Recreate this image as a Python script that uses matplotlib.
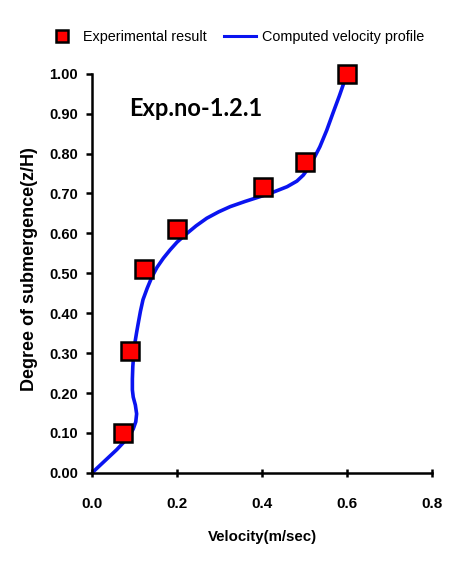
import matplotlib
matplotlib.use("Agg")
import matplotlib.pyplot as plt
from matplotlib.lines import Line2D

# experimental points
exp_velocity = [0.073, 0.089, 0.122, 0.20, 0.402, 0.501, 0.60]
exp_depth = [0.10, 0.305, 0.51, 0.61, 0.715, 0.78, 1.00]

# computed velocity profile
calc_velocity = [0.0, 0.02, 0.04, 0.058, 0.073, 0.088, 0.097, 0.103, 0.105, 0.102,
                 0.097, 0.095, 0.095, 0.096, 0.098, 0.101, 0.105, 0.109, 0.114,
                 0.120, 0.130, 0.141, 0.153, 0.168, 0.184, 0.200, 0.220, 0.245,
                 0.270, 0.298, 0.325, 0.360, 0.395, 0.428, 0.459, 0.482, 0.497,
                 0.508, 0.522, 0.536, 0.552, 0.567, 0.582, 0.595]
calc_depth = [0.0, 0.02, 0.04, 0.058, 0.075, 0.093, 0.11, 0.128, 0.148, 0.17,
              0.19, 0.208, 0.235, 0.266, 0.296, 0.326, 0.352, 0.376, 0.405,
              0.434, 0.463, 0.491, 0.515, 0.538, 0.559, 0.578, 0.597, 0.619,
              0.638, 0.654, 0.667, 0.680, 0.692, 0.704, 0.717, 0.731, 0.746,
              0.762, 0.788, 0.817, 0.858, 0.902, 0.945, 0.985]

xticks = [0.0, 0.2, 0.4, 0.6, 0.8]
yticks = [i / 10 for i in range(11)]

plt.rcParams["font.family"] = ["Liberation Sans", "DejaVu Sans"]

fig = plt.figure(figsize=(4.52, 5.76), dpi=100)
ax = fig.add_axes([0.2035, 0.179, 0.7525, 0.693])

ax.plot(calc_velocity, calc_depth, color="#0a14f0", lw=2.6, zorder=2)
ax.plot(exp_velocity, exp_depth, ls="none", marker="s", ms=12.5,
        mfc="#ff0000", mec="black", mew=1.8, zorder=3, clip_on=False)

ax.set_xlim(0, 0.8)
ax.set_ylim(0, 1.0)
ax.set_xticks(xticks)
ax.set_xticklabels([f"{v:.1f}" for v in xticks], fontsize=11, fontweight="bold")
ax.set_yticks(yticks)
ax.set_yticklabels([f"{v:.2f}" for v in yticks], fontsize=10.5, fontweight="bold")
ax.tick_params(axis="y", direction="out", length=4, width=1.8, pad=6)
ax.tick_params(axis="x", direction="inout", length=6, width=1.8, pad=14)
for s in ["top", "right"]:
    ax.spines[s].set_visible(False)
for s in ["left", "bottom"]:
    ax.spines[s].set_linewidth(1.8)

ax.set_xlabel("Velocity(m/sec)", fontsize=10.8, fontweight="bold", labelpad=14)
ax.set_ylabel("Degree of submergence(z/H)", fontsize=13, fontweight="bold")
ax.yaxis.set_label_coords(-0.158, 0.51)

ax.text(0.088, 0.913, "Exp.no-1.2.1", fontsize=17, fontweight="bold",
        family=["Lato", "DejaVu Sans"], va="center", ha="left")

handles = [
    Line2D([], [], ls="none", marker="s", ms=9, mfc="#ff0000", mec="black", mew=1.8),
    Line2D([], [], color="#0a14f0", lw=2.2),
]
fig.legend(handles, ["Experimental result", "Computed velocity profile"],
           loc="center", bbox_to_anchor=(0.52, 0.935), ncol=2, frameon=False,
           fontsize=10.4, handlelength=2.2, handletextpad=0.4, columnspacing=1.2)

fig.savefig("out.png", dpi=100)
